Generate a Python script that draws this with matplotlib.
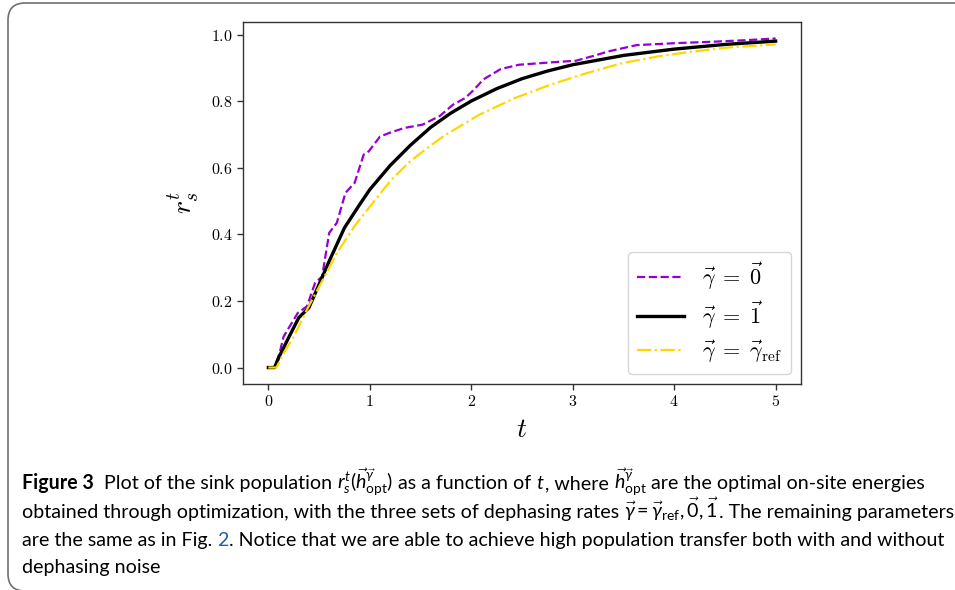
import matplotlib
matplotlib.use("Agg")
import matplotlib.pyplot as plt
from matplotlib.patches import FancyBboxPatch
from matplotlib.ticker import FuncFormatter, FixedLocator

plt.rcParams['mathtext.fontset'] = 'cm'
plt.rcParams['mathtext.rm'] = 'Lato'
plt.rcParams['mathtext.it'] = 'Lato:italic'
plt.rcParams['mathtext.bf'] = 'Lato:bold'

# ---------------- data ----------------
t_zero = [0.0, 0.06, 0.11, 0.15, 0.29, 0.38, 0.46, 0.53, 0.60, 0.675, 0.76, 0.85,
          0.94, 0.99, 1.10, 1.20, 1.34, 1.52, 1.69, 1.82, 1.94, 2.03, 2.12, 2.29,
          2.47, 2.78, 3.03, 3.21, 3.35, 3.63, 4.02, 4.37, 4.72, 5.0]
r_zero = [0.0, 0.0, 0.043, 0.093, 0.164, 0.184, 0.254, 0.274, 0.405, 0.435, 0.525, 0.555,
          0.64, 0.65, 0.694, 0.706, 0.72, 0.73, 0.756, 0.79, 0.81, 0.836, 0.866, 0.897,
          0.91, 0.917, 0.922, 0.937, 0.95, 0.969, 0.975, 0.979, 0.984, 0.989]

t_one = [0.0, 0.06, 0.11, 0.20, 0.30, 0.40, 0.50, 0.60, 0.75, 0.90, 1.0, 1.2, 1.4,
         1.6, 1.8, 2.0, 2.25, 2.5, 2.75, 3.0, 3.5, 4.0, 4.5, 5.0]
r_one = [0.0, 0.0, 0.035, 0.09, 0.15, 0.18, 0.25, 0.32, 0.42, 0.49, 0.535, 0.607, 0.668,
         0.722, 0.765, 0.801, 0.838, 0.868, 0.891, 0.91, 0.938, 0.957, 0.971, 0.981]

t_ref = [0.0, 0.08, 0.15, 0.25, 0.38, 0.52, 0.675, 0.85, 1.03, 1.20, 1.38, 1.55,
         1.73, 2.08, 2.43, 2.78, 3.14, 3.49, 3.84, 4.19, 4.54, 5.0]
r_ref = [0.0, 0.0, 0.043, 0.093, 0.174, 0.254, 0.344, 0.425, 0.495, 0.56, 0.615, 0.656,
         0.696, 0.76, 0.81, 0.85, 0.885, 0.915, 0.935, 0.95, 0.962, 0.971]

labels = [r'$\vec{\gamma}\;=\;\vec{0}$', r'$\vec{\gamma}\;=\;\vec{1}$',
          r'$\vec{\gamma}\;=\;\vec{\gamma}_{\mathrm{ref}}$']
x_ticks = [0, 1, 2, 3, 4, 5]
y_ticks = [0.0, 0.2, 0.4, 0.6, 0.8, 1.0]

W, H = 955, 590
fig = plt.figure(figsize=(W / 100, H / 100), dpi=100)

# rounded frame
frame = FancyBboxPatch((8 / W, -1 / H), (1100 - 8) / W, (H - 3 + 1) / H,
                       boxstyle="round,pad=0,rounding_size=0.018",
                       transform=fig.transFigure, fill=False,
                       edgecolor='#707070', linewidth=1.2, mutation_aspect=W / H)
fig.patches.append(frame)

ax = fig.add_axes([243 / W, 1 - 384 / H, (801 - 243) / W, (384 - 22) / H])
ax.plot(t_zero, r_zero, color='#9400D3', linestyle='--', linewidth=1.6, label=labels[0])
ax.plot(t_one, r_one, color='black', linestyle='-', linewidth=2.4, label=labels[1])
ax.plot(t_ref, r_ref, color='#FFD700', linestyle='-.', linewidth=1.6, label=labels[2])

ax.xaxis.set_major_locator(FixedLocator(x_ticks))
ax.yaxis.set_major_locator(FixedLocator(y_ticks))
ax.xaxis.set_major_formatter(FuncFormatter(lambda v, p: rf'${v:g}$'))
ax.yaxis.set_major_formatter(FuncFormatter(lambda v, p: rf'${v:.1f}$'))
ax.tick_params(labelsize=11.5, color='#333333', width=1.0, length=4)
for s in ax.spines.values():
    s.set_color('#333333')
    s.set_linewidth(1.0)
ax.set_xlabel(r'$t$', fontsize=20, labelpad=4)
ax.set_ylabel(r'$r_s^t$', fontsize=20, labelpad=6)

leg = ax.legend(loc='lower right', fontsize=16, handlelength=2.1,
                framealpha=0.8, edgecolor='#cccccc', labelspacing=0.35,
                borderaxespad=0.45)

# ---------------- caption ----------------
cap_lines = [
    [("Figure 3", 'bold', 'black'), ("  Plot of the sink population ", 'normal', 'black'),
     (r"$r_s^t(\vec{h}^{\vec{\gamma}}_{\mathrm{opt}})$", 'normal', 'black'),
     (" as a function of ", 'normal', 'black'), (r"$t$", 'normal', 'black'),
     (", where ", 'normal', 'black'),
     (r"$\vec{h}^{\vec{\gamma}}_{\mathrm{opt}}$", 'normal', 'black'),
     (" are the optimal on-site energies", 'normal', 'black')],
    [("obtained through optimization, with the three sets of dephasing rates ", 'normal', 'black'),
     (r"$\vec{\gamma}=\vec{\gamma}_{\mathrm{ref}},\vec{0},\vec{1}$", 'normal', 'black'),
     (". The remaining parameters", 'normal', 'black')],
    [("are the same as in Fig. ", 'normal', 'black'), ("2", 'normal', '#1a5fb4'),
     (". Notice that we are able to achieve high population transfer both with and without", 'normal', 'black')],
    [("dephasing noise", 'normal', 'black')],
]
baselines = [489, 518, 546, 573]

fig.canvas.draw()
renderer = fig.canvas.get_renderer()


def build(size):
    made = []
    widths = []
    for line, yb in zip(cap_lines, baselines):
        x = 22
        for s, wgt, col in line:
            t = fig.text(x / W, 1 - yb / H, s, fontsize=size, fontweight=wgt,
                         color=col, family='Lato', va='baseline', ha='left',
                         math_fontfamily='custom')
            bb = t.get_window_extent(renderer=renderer)
            x += bb.width
            made.append(t)
        widths.append(x - 22)
    return made, widths


made, widths = build(11)
size = 11 * 903 / widths[0]
for t in made:
    t.remove()
made, widths = build(size)

fig.savefig('out.png', dpi=100)
